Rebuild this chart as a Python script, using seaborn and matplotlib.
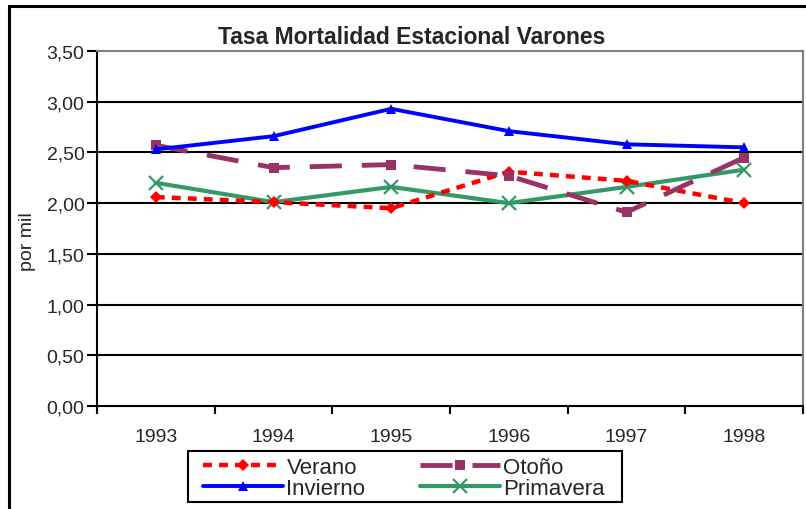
import matplotlib
matplotlib.use("Agg")
import matplotlib.pyplot as plt
import matplotlib.patches as mpatches
from matplotlib.ticker import FixedLocator, FuncFormatter
import numpy as np
import pandas as pd
import seaborn as sns

years = [1993, 1994, 1995, 1996, 1997, 1998]
verano = [2.06, 2.01, 1.95, 2.31, 2.22, 2.00]
otono = [2.57, 2.35, 2.38, 2.27, 1.91, 2.45]
invierno = [2.53, 2.66, 2.93, 2.71, 2.58, 2.55]
primavera = [2.20, 2.01, 2.16, 2.00, 2.16, 2.33]
series_names = ["Verano", "Otoño", "Invierno", "Primavera"]
title = "Tasa Mortalidad Estacional Varones"
ylabel = "por mil"
yticks = [0.0, 0.5, 1.0, 1.5, 2.0, 2.5, 3.0, 3.5]

sns.set_style("white")
plt.rcParams['font.family'] = ['Liberation Sans', 'DejaVu Sans']

fig = plt.figure(figsize=(8.06, 5.10), dpi=100)
ax = fig.add_axes([97/806, 103/510, 706/806, 355/510])

styles = {
    "Verano": dict(color="#FF0000", lw=3.2, ls=(0, (2.0, 1.6)), marker="D", ms=6, mew=0),
    "Otoño": dict(color="#993366", lw=3.5, ls=(0, (6.6, 4.1)), marker="s", ms=6.5, mew=0),
    "Invierno": dict(color="#0000FF", lw=2.8, ls="-", marker="^", ms=7, mew=0),
    "Primavera": dict(color="#339966", lw=3.0, ls="-", marker="x", ms=10, mew=1.6),
}
values = {"Verano": verano, "Otoño": otono, "Invierno": invierno, "Primavera": primavera}

handles = {}
for name in ["Primavera", "Verano", "Otoño", "Invierno"]:
    df = pd.DataFrame({"year": years, "val": values[name]})
    sns.lineplot(data=df, x="year", y="val", ax=ax, legend=False)
    line = ax.get_lines()[-1]
    st = styles[name]
    line.set_color(st["color"])
    line.set_linewidth(st["lw"])
    line.set_linestyle(st["ls"])
    line.set_marker(st["marker"])
    line.set_markersize(st["ms"])
    line.set_markerfacecolor(st["color"])
    line.set_markeredgecolor(st["color"])
    line.set_markeredgewidth(st["mew"])
    line.set_label(name)
    handles[name] = line

ax.set_xlim(1992.5, 1998.5)
ax.set_ylim(0, 3.5)
ax.set_xlabel("")
ax.set_ylabel("")

ax.xaxis.set_major_locator(FixedLocator(years))
ax.xaxis.set_minor_locator(FixedLocator([y + 0.5 for y in [1992] + years]))
ax.tick_params(axis="x", which="major", length=0, pad=16, labelsize=14)
ax.tick_params(axis="x", which="minor", length=6, width=1.5, color="black", direction="out", bottom=True)
ax.set_yticks(yticks)
ax.yaxis.set_major_formatter(FuncFormatter(lambda v, p: f"{v:.2f}".replace(".", ",")))
ax.tick_params(axis="y", length=7, width=1.5, color="black", direction="out", left=True, labelsize=14, pad=2)

for t in yticks[1:-1]:
    ax.axhline(t, color="black", lw=1.5, zorder=0.5)

for s in ["left", "bottom"]:
    ax.spines[s].set_color("black")
    ax.spines[s].set_linewidth(1.5)
for s in ["top", "right"]:
    ax.spines[s].set_color("#808080")
    ax.spines[s].set_linewidth(1.5)

fig.text(412/806, (510-38)/510, title, ha="center", va="center", fontsize=16.5, fontweight="bold")
fig.text(28/806, (510-242)/510, ylabel, ha="center", va="center", rotation=90, fontsize=14)

order = ["Verano", "Invierno", "Otoño", "Primavera"]
leg = fig.legend([handles[n] for n in order], order, ncol=2, loc="center",
                 bbox_to_anchor=(404/806, (510-479)/510), frameon=False,
                 fontsize=16, labelspacing=0.0, handlelength=3.6, handletextpad=0.15,
                 columnspacing=2.45, borderpad=0.0, borderaxespad=0)

fig.add_artist(mpatches.Rectangle((188/806, (510-503)/510), (622-188)/806, 51/510,
                                  transform=fig.transFigure, fill=False, edgecolor="black",
                                  lw=1.5, clip_on=False))

fig.add_artist(mpatches.Rectangle((9/806, -0.1), 1.2, (510-7)/510 + 0.1, transform=fig.transFigure,
                                  fill=False, edgecolor="black", lw=2.2, clip_on=False))

fig.savefig("out.png", dpi=100)
